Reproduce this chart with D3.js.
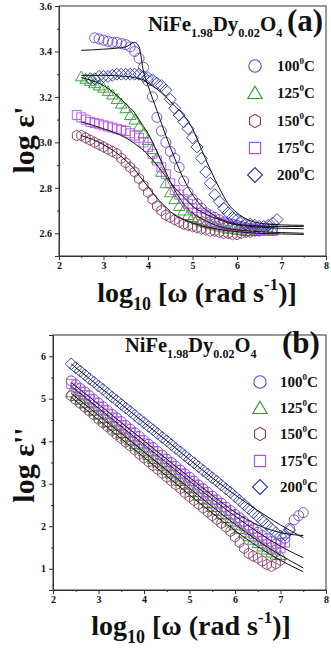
<!DOCTYPE html>
<html><head><meta charset="utf-8">
<script src="https://cdn.jsdelivr.net/npm/d3@7"></script>
<style>html,body{margin:0;padding:0;background:#fff;}svg{display:block;}</style>
</head><body>
<svg id="c" width="331" height="652"></svg>
<script>
// ---------------- DATA ----------------
const temps = ["100", "125", "150", "175", "200"];
const colors = ["#6a44cc", "#2f9a2f", "#8a3a66", "#b84ee8", "#2434a8"];
const shapes = ["circle", "triangle", "hexagon", "square", "diamond"];

const xTicks = [2, 3, 4, 5, 6, 7, 8];
const yTicksA = [2.6, 2.8, 3.0, 3.2, 3.4, 3.6];
const yTicksB = [1, 2, 3, 4, 5, 6];

// panel (a): log eps' on log omega grid 2.4 ... 7.0 (step 0.1)
const freqA = [2.4,2.5,2.6,2.7,2.8,2.9,3.0,3.1,3.2,3.3,3.4,3.5,3.6,3.7,3.8,3.9,4.0,4.1,4.2,4.3,4.4,4.5,4.6,4.7,4.8,4.9,5.0,5.1,5.2,5.3,5.4,5.5,5.6,5.7,5.8,5.9,6.0,6.1,6.2,6.3,6.4,6.5,6.6,6.7,6.8,6.9,7.0];
const epsA100 = [null,null,null,null,3.46,3.455,3.45,3.445,3.44,3.44,3.435,3.43,3.42,3.40,3.37,3.33,3.27,3.20,3.11,3.05,3.00,2.96,2.93,2.89,2.83,2.78,2.75,2.73,2.71,2.69,2.68,2.67,2.66,2.65,2.645,2.64,2.635,2.63,2.625,2.62,2.62,2.615,2.615,2.62,2.62,null,null];
const epsA125 = [null,3.29,3.28,3.27,3.26,3.25,3.24,3.225,3.21,3.19,3.17,3.15,3.12,3.10,3.07,3.04,3.01,2.97,2.93,2.87,2.82,2.78,2.75,2.72,2.70,2.68,2.67,2.66,2.65,2.645,2.64,2.635,2.63,2.625,2.62,2.62,2.615,2.615,2.61,2.61,2.61,2.61,2.61,2.61,2.615,null,null];
const epsA150 = [3.03,3.03,3.02,3.01,3.00,2.99,2.98,2.97,2.96,2.95,2.93,2.91,2.89,2.87,2.84,2.81,2.78,2.75,2.72,2.70,2.68,2.67,2.66,2.65,2.64,2.635,2.63,2.625,2.62,2.615,2.61,2.61,2.605,2.60,2.60,2.595,2.595,2.60,2.605,2.605,2.61,2.61,null,null,null,null,null];
const epsA175 = [3.12,3.11,3.10,3.09,3.085,3.08,3.075,3.07,3.065,3.06,3.055,3.05,3.04,3.03,3.02,3.00,2.98,2.95,2.92,2.89,2.86,2.82,2.79,2.77,2.75,2.73,2.71,2.69,2.68,2.67,2.66,2.65,2.645,2.64,2.635,2.63,2.63,2.625,2.62,2.62,2.615,2.615,2.61,2.61,2.61,null,null];
const epsA200 = [null,null,null,3.28,3.28,3.29,3.29,3.29,3.295,3.30,3.30,3.30,3.30,3.30,3.30,3.29,3.285,3.275,3.26,3.25,3.23,3.19,3.15,3.12,3.09,3.06,3.02,2.98,2.93,2.87,2.82,2.77,2.74,2.71,2.69,2.67,2.66,2.65,2.64,2.64,2.635,2.63,2.63,2.635,2.645,2.66,null];

// panel (a) fitted curves
const fitFreqA = [2.5,3.0,3.5,3.7,3.8,3.9,4.0,4.2,4.4,4.6,4.8,5.0,5.2,5.4,5.6,5.8,6.0,6.5,7.0,7.5];
const fitA100 = [3.405,3.41,3.42,3.44,3.42,3.31,3.25,3.14,3.03,2.93,2.84,2.77,2.72,2.69,2.665,2.65,2.64,2.632,2.63,2.63];
const fitA125 = [3.285,3.25,3.17,3.13,3.10,3.07,3.04,2.96,2.87,2.79,2.73,2.69,2.665,2.645,2.63,2.62,2.615,2.607,2.603,2.60];
const fitA150 = [3.03,2.99,2.92,2.88,2.855,2.83,2.805,2.755,2.715,2.68,2.66,2.645,2.633,2.624,2.617,2.611,2.607,2.60,2.597,2.595];
const fitA175 = [3.09,3.06,3.02,2.995,2.98,2.965,2.945,2.90,2.85,2.80,2.76,2.72,2.695,2.675,2.66,2.645,2.637,2.627,2.622,2.62];
const fitA200 = [3.295,3.295,3.29,3.285,3.28,3.275,3.26,3.235,3.20,3.16,3.12,3.06,2.97,2.88,2.80,2.73,2.69,2.645,2.637,2.635];

// panel (b): log eps'' on log omega grid 2.4 ... 7.5 (step 0.1)
const freqB = [2.4,2.5,2.6,2.7,2.8,2.9,3.0,3.1,3.2,3.3,3.4,3.5,3.6,3.7,3.8,3.9,4.0,4.1,4.2,4.3,4.4,4.5,4.6,4.7,4.8,4.9,5.0,5.1,5.2,5.3,5.4,5.5,5.6,5.7,5.8,5.9,6.0,6.1,6.2,6.3,6.4,6.5,6.6,6.7,6.8,6.9,7.0,7.1,7.2,7.3,7.4,7.5];
const epsB100 = [5.42,5.33,5.24,5.16,5.07,4.98,4.90,4.81,4.72,4.63,4.55,4.46,4.37,4.28,4.20,4.11,4.02,3.93,3.85,3.76,3.67,3.58,3.50,3.41,3.32,3.23,3.15,3.06,2.97,2.88,2.80,2.71,2.62,2.54,2.45,2.37,2.28,2.20,2.11,2.02,1.94,1.86,1.78,1.71,1.64,1.58,1.60,1.72,1.95,2.15,2.25,2.32];
const epsB125 = [5.15,5.06,4.98,4.89,4.80,4.72,4.63,4.54,4.45,4.37,4.28,4.19,4.11,4.02,3.93,3.85,3.76,3.67,3.58,3.50,3.41,3.32,3.24,3.15,3.06,2.98,2.89,2.80,2.72,2.63,2.54,2.45,2.37,2.28,2.19,2.11,2.02,1.93,1.85,1.76,1.68,1.60,1.52,1.45,1.38,1.33,1.32,null,null,null,null,null];
const epsB150 = [5.07,4.98,4.89,4.80,4.71,4.62,4.52,4.43,4.34,4.25,4.16,4.07,3.98,3.89,3.80,3.70,3.61,3.52,3.43,3.34,3.25,3.16,3.07,2.98,2.89,2.79,2.70,2.61,2.52,2.43,2.34,2.25,2.16,2.07,1.98,1.88,1.75,1.62,1.48,1.36,1.30,1.25,1.18,1.10,1.06,1.12,1.20,null,null,null,null,null];
const epsB175 = [5.35,5.26,5.17,5.09,5.00,4.91,4.82,4.74,4.65,4.56,4.47,4.38,4.30,4.21,4.12,4.03,3.95,3.86,3.77,3.68,3.59,3.51,3.42,3.33,3.24,3.15,3.07,2.98,2.89,2.80,2.71,2.63,2.54,2.45,2.36,2.27,2.18,2.09,2.00,1.91,1.82,1.74,1.65,1.57,1.50,1.45,1.48,1.62,null,null,null,null];
const epsB200 = [5.82,5.73,5.65,5.56,5.47,5.39,5.30,5.22,5.13,5.04,4.96,4.87,4.78,4.70,4.61,4.52,4.44,4.35,4.27,4.18,4.09,4.01,3.92,3.83,3.75,3.66,3.57,3.49,3.40,3.31,3.23,3.14,3.06,2.97,2.88,2.80,2.70,2.61,2.51,2.42,2.32,2.23,2.13,2.04,1.94,1.85,1.77,1.80,1.91,null,null,null];

// panel (b) fitted curves
const fitFreqB = [2.4,3.0,3.5,4.0,4.5,5.0,5.5,6.0,6.5,7.0,7.5];
const fitB100 = [5.38,4.87,4.44,4.01,3.58,3.15,2.73,2.33,2.03,1.85,1.78];
const fitB125 = [5.13,4.61,4.18,3.75,3.32,2.89,2.46,2.05,1.66,1.32,1.02];
const fitB150 = [5.04,4.50,4.06,3.62,3.18,2.74,2.31,1.90,1.52,1.20,0.93];
const fitB175 = [5.30,4.78,4.35,3.92,3.49,3.06,2.64,2.24,1.86,1.53,1.26];
const fitB200 = [5.82,5.30,4.87,4.44,4.01,3.57,3.14,2.74,2.37,2.03,1.73];

// ---------------- DRAWING ----------------
const svg = d3.select("#c");
const FONT = "'Liberation Serif','Times New Roman',serif";

function markerPath(shape, s) {
  switch (shape) {
    case "circle": { const p = d3.path(); p.arc(0, 0, s, 0, 2 * Math.PI); p.closePath(); return p.toString(); }
    case "triangle": { const h = s * 1.1; return `M0,${-h}L${h * 1.05},${h * 0.8}L${-h * 1.05},${h * 0.8}Z`; }
    case "hexagon": { let d = ""; for (let i = 0; i < 6; i++) { const a = Math.PI / 3 * i - Math.PI / 2; d += (i ? "L" : "M") + (s * 1.02 * Math.cos(a)).toFixed(2) + "," + (s * 1.08 * Math.sin(a)).toFixed(2); } return d + "Z"; }
    case "square": { const h = s * 0.9; return `M${-h},${-h}H${h}V${h}H${-h}Z`; }
    case "diamond": { const h = s * 1.2; return `M0,${-h}L${h},0L0,${h}L${-h},0Z`; }
  }
}

function panel(cfg) {
  const x = d3.scaleLinear().domain([2, 8]).range(cfg.xr);
  const y = d3.scaleLinear().domain(cfg.yd).range(cfg.yr);
  const g = svg.append("g");

  g.append("rect").attr("x", cfg.xr[0]).attr("y", cfg.yr[1])
    .attr("width", cfg.xr[1] - cfg.xr[0]).attr("height", cfg.yr[0] - cfg.yr[1])
    .attr("fill", "none").attr("stroke", "#333").attr("stroke-width", 1);

  const minorX = d3.range(2.5, 8, 1);
  g.append("g").attr("transform", `translate(0,${cfg.yr[0]})`)
    .call(d3.axisBottom(x).tickValues(cfg.xTicks).tickSize(4).tickPadding(2).tickFormat(d3.format("d")));
  g.append("g").attr("transform", `translate(0,${cfg.yr[0]})`)
    .call(d3.axisBottom(x).tickValues(minorX).tickSize(2).tickFormat(""))
    .select(".domain").remove();
  g.append("g").attr("transform", `translate(${cfg.xr[0]},0)`)
    .call(d3.axisLeft(y).tickValues(cfg.yTicks).tickSize(4).tickPadding(3).tickFormat(cfg.yFmt));
  g.append("g").attr("transform", `translate(${cfg.xr[0]},0)`)
    .call(d3.axisLeft(y).tickValues(cfg.yMinor).tickSize(2).tickFormat(""))
    .select(".domain").remove();
  g.selectAll(".tick text").attr("font-family", FONT).attr("font-weight", "bold").attr("font-size", 10).attr("fill", "#111");
  g.selectAll(".domain, .tick line").attr("stroke", "#333");

  cfg.series.forEach((ser, i) => {
    const pts = cfg.freq.map((f, k) => [f, ser[k]]).filter(p => p[1] !== null);
    const d = markerPath(shapes[i], cfg.ms);
    g.append("g").selectAll("path").data(pts).join("path")
      .attr("d", d)
      .attr("transform", p => `translate(${x(p[0])},${y(p[1])})`)
      .attr("fill", "none").attr("stroke", colors[i]).attr("stroke-width", 0.9);
  });

  const line = d3.line().x(p => x(p[0])).y(p => y(p[1])).curve(d3.curveMonotoneX);
  cfg.fits.forEach(ft => {
    g.append("path").datum(cfg.fitFreq.map((f, k) => [f, ft[k]]))
      .attr("d", line).attr("fill", "none").attr("stroke", "#111").attr("stroke-width", 1);
  });

  // compound title, stretched to reference width
  const tg = g.append("g");
  const t = tg.append("text").attr("x", 0).attr("y", 0)
    .attr("font-family", FONT).attr("font-weight", "bold").attr("font-size", 22).attr("fill", "#111");
  const parts = [["NiFe", 0], ["1.98", 1], ["Dy", 0], ["0.02", 1], ["O", 0], ["4", 1]];
  let sub = false;
  parts.forEach(([s, isSub]) => {
    const ts = t.append("tspan").text(s);
    if (isSub && !sub) { ts.attr("dy", 6).attr("font-size", 13); sub = true; }
    else if (isSub) { ts.attr("font-size", 13); }
    else if (!isSub && sub) { ts.attr("dy", -6); sub = false; }
  });
  const bw = t.node().getBBox().width || 1;
  tg.attr("transform", `translate(${cfg.title[0]},${cfg.title[1]}) scale(${cfg.title[2] / bw},1)`);

  g.append("text").attr("x", cfg.tag[0]).attr("y", cfg.tag[1]).text(cfg.tagText)
    .attr("font-family", FONT).attr("font-weight", "bold").attr("font-size", 31).attr("fill", "#111");

  temps.forEach((tp, i) => {
    const yy = cfg.leg.y[i];
    g.append("path").attr("d", markerPath(shapes[i], 6.2))
      .attr("transform", `translate(${cfg.leg.mx},${yy})`)
      .attr("fill", "none").attr("stroke", colors[i]).attr("stroke-width", 1.1);
    const lt = g.append("text").attr("x", cfg.leg.tx).attr("y", yy + 5)
      .attr("font-family", FONT).attr("font-weight", "bold").attr("font-size", 15).attr("fill", "#111");
    lt.append("tspan").text(tp);
    lt.append("tspan").text("0").attr("font-size", 9).attr("dy", -7);
    lt.append("tspan").text("C").attr("dy", 7);
  });

  const xt = g.append("text").attr("x", cfg.xTitle[0]).attr("y", cfg.xTitle[1]).attr("text-anchor", "middle")
    .attr("font-family", FONT).attr("font-weight", "bold").attr("font-size", 28).attr("fill", "#111");
  xt.append("tspan").text("log");
  xt.append("tspan").text("10").attr("font-size", 18).attr("dy", 8);
  xt.append("tspan").text(" [\u03c9 (rad s").attr("dy", -8);
  xt.append("tspan").text("-1").attr("font-size", 17).attr("dy", -12);
  xt.append("tspan").text(")]").attr("dy", 12);

  g.append("text").attr("transform", `translate(${cfg.yTitle[0]},${cfg.yTitle[1]}) rotate(-90)`)
    .attr("text-anchor", "middle").attr("font-family", FONT).attr("font-weight", "bold")
    .attr("font-size", 30).attr("fill", "#111").text(cfg.yTitleText);
}

panel({
  xr: [59, 326], yd: [2.5, 3.6], yr: [256, 6],
  xTicks: xTicks, yTicks: yTicksA, yMinor: d3.range(2.5, 3.6, 0.2).map(v => +v.toFixed(1)), yFmt: d3.format(".1f"),
  freq: freqA, series: [epsA100, epsA125, epsA150, epsA175, epsA200], ms: 5,
  fitFreq: fitFreqA, fits: [fitA100, fitA125, fitA150, fitA175, fitA200],
  title: [148, 31, 135], tag: [287, 31], tagText: "(a)",
  leg: { mx: 255, tx: 277, y: [66, 93, 121, 148, 175] },
  xTitle: [197, 302], yTitle: [34, 140], yTitleText: "log \u03b5'"
});

panel({
  xr: [53, 326], yd: [0.5, 6.5], yr: [590, 335],
  xTicks: xTicks, yTicks: yTicksB, yMinor: d3.range(0.5, 6.6, 1), yFmt: d3.format("d"),
  freq: freqB, series: [epsB100, epsB125, epsB150, epsB175, epsB200], ms: 5,
  fitFreq: fitFreqB, fits: [fitB100, fitB125, fitB150, fitB175, fitB200],
  title: [125, 352, 132], tag: [282, 353], tagText: "(b)",
  leg: { mx: 260, tx: 280, y: [382, 408, 434, 461, 487] },
  xTitle: [191, 635], yTitle: [34, 465], yTitleText: "log \u03b5''"
});
</script>
</body></html>
